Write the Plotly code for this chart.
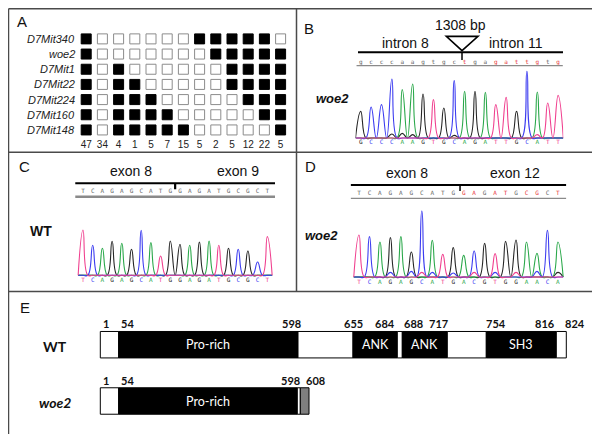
import plotly.graph_objects as go

W, H = 600, 434
ARIAL = "Arial, Liberation Sans, sans-serif"
CALI = "Lato, Open Sans, sans-serif"

# ---------------- Panel A data ----------------
markers_A = ["D7Mit340", "woe2", "D7Mit1", "D7Mit22", "D7Mit224", "D7Mit160", "D7Mit148"]
counts_A = [47, 34, 4, 1, 5, 7, 15, 5, 2, 5, 12, 22, 5]
geno_A = [
    [1, 0, 0, 0, 0, 0, 0, 1, 1, 1, 1, 1, 0],
    [1, 0, 0, 0, 0, 0, 0, 0, 1, 1, 1, 1, 1],
    [1, 0, 1, 0, 0, 0, 0, 0, 0, 1, 1, 1, 1],
    [1, 0, 1, 1, 0, 0, 0, 0, 0, 1, 1, 1, 1],
    [1, 0, 1, 1, 1, 0, 0, 0, 0, 0, 1, 1, 1],
    [1, 0, 1, 1, 1, 1, 0, 0, 0, 0, 0, 1, 1],
    [1, 0, 1, 1, 1, 1, 1, 0, 0, 0, 0, 0, 1],
]

# ---------------- Chromatogram data ----------------
B_calls = "GCCCAAGTGCAGATTGCATT"
B_heights = [80, 93, 100, 177, 145, 162, 132, 115, 90, 172, 140, 140, 137, 100, 122, 80, 200, 138, 105, 128]
B_minor = {"G": {3: 12, 4: 14, 5: 10, 9: 8}, "A": {4: 8}, "T": {17: 10}, "C": {}}
B_top_seq = "gcccaagtgctgagattgtg"
B_top_red = [10, 13, 14, 15, 16, 17, 19]

C_calls = "TCAGAGCATGGAGATGCGCT"
C_heights = [136, 90, 81, 102, 96, 78, 135, 98, 58, 103, 93, 90, 100, 103, 90, 81, 78, 73, 40, 116]
C_minor = {"G": {}, "A": {}, "T": {}, "C": {}}
C_top_seq = "TCAGAGCATGGAGATGCGCT"
C_top_red = []

D_calls = "TCAGAGCATGACGTGGAACA"
D_heights = [126, 121, 105, 118, 121, 75, 198, 110, 68, 88, 65, 78, 101, 70, 107, 111, 105, 71, 140, 105]
D_minor = {"G": {19: 14}, "A": {}, "T": {6: 14, 11: 14, 15: 14},
           "C": {3: 14, 5: 17, 7: 14, 9: 12, 13: 14, 17: 17}}
D_top_seq = "TCAGAGCATGGAGATGCGCT"
D_top_red = [10, 11, 13, 14, 16, 17, 19]

# ---------------- Panel E data ----------------
wt_residues = [1, 54, 598, 655, 684, 688, 717, 754, 816, 824]
wt_draw = [92.3, 110.7, 290.0, 345.0, 389.3, 394.3, 439.3, 478.3, 548.3, 558.3]
wt_fill = ["white", "black", "white", "black", "white", "black", "white", "black", "white"]
wt_domains = ["", "Pro-rich", "", "ANK", "", "ANK", "", "SH3", ""]
wt_anchor = ["left", "left", "right", "center", "right", "left", "right", "left", "right", "left"]
wt_shift = [1, 0, 5, 0, 0, 0, 3, -2, 1, -3]

mut_residues = [1, 54, 598, 608]
mut_draw = [92.3, 110.7, 289.3, 292.3, 301.0]
mut_fill = ["white", "black", "white", "#7f7f7f"]
mut_domains = ["", "Pro-rich", "", ""]
mut_label_idx = [0, 1, 2, 4]
mut_anchor = ["left", "left", "right", "left"]
mut_shift = [1, 0, 5, -5]

BASE_COL = {"G": "#262626", "A": "#2aa84a", "T": "#f0408f", "C": "#3c3cf0"}


def dx(a, b):
    return [a / W, b / W]


def dy(top, bot):
    return [1 - bot / H, 1 - top / H]


fig = go.Figure()
layout_axes = {}

# axis 1: panel A
layout_axes["xaxis"] = dict(domain=dx(70.1, 280.7), range=[-0.5, 12.5])
layout_axes["yaxis"] = dict(domain=dy(23.3, 144.7), range=[7.5, -0.5])


def chrom_axes(idx, p0, step, xr, base_px, yr):
    layout_axes["xaxis%d" % idx] = dict(domain=dx(p0 + xr[0] * step, p0 + xr[1] * step), range=xr,
                                        anchor="y%d" % idx)
    layout_axes["yaxis%d" % idx] = dict(domain=dy(base_px - yr[1] / 3.0, base_px - yr[0] / 3.0), range=yr,
                                        anchor="x%d" % idx)


chrom_axes(2, 352.7, 10.39, [-0.5, 19.5], 130.0, [-25, 350])
chrom_axes(3, 75.0, 9.7, [-0.8, 19.8], 267.3, [-25, 330])
chrom_axes(4, 351.0, 10.47, [-0.8, 19.8], 269.0, [-25, 330])
layout_axes["xaxis5"] = dict(domain=[0, 1], range=[0, 600], anchor="y5")
layout_axes["yaxis5"] = dict(domain=dy(300, 420), range=[-0.4796, 1.652], anchor="x5")

for k, v in layout_axes.items():
    v.update(visible=False, fixedrange=True)

# ---- Panel A marks ----
for r, row in enumerate(geno_A):
    fig.add_trace(go.Scatter(
        x=list(range(len(row))), y=[r] * len(row), mode="markers", xaxis="x", yaxis="y",
        marker=dict(symbol="square", size=10,
                    color=["black" if g else "white" for g in row],
                    line=dict(width=1, color=["black" if g else "#8c8c8c" for g in row])),
        hoverinfo="skip", showlegend=False))
fig.add_trace(go.Scatter(
    x=list(range(len(counts_A))), y=[7.05] * len(counts_A), mode="text", xaxis="x", yaxis="y",
    text=[str(c) for c in counts_A], textfont=dict(size=10, family=ARIAL, color="#222"),
    hoverinfo="skip", showlegend=False, cliponaxis=False))

annotations = []
for r, name in enumerate(markers_A):
    annotations.append(dict(text="<i>%s</i>" % name, xref="paper", yref="y", x=68.5 / W, y=r,
                            xanchor="right", yanchor="middle", showarrow=False,
                            font=dict(size=11, family=ARIAL, color="#222")))


# ---- chromatograms ----
def chromatogram(idx, calls, heights, minor):
    xa, ya = "x%d" % idx, "y%d" % idx
    for base in ["G", "A", "C", "T"]:
        vals = [heights[i] if calls[i] == base else minor[base].get(i, 0) for i in range(len(calls))]
        xs, ys = [-0.5], [0]
        for i, v in enumerate(vals):
            xs += [i, i + 0.5]
            ys += [v, 0]
        fig.add_trace(go.Scatter(x=xs, y=ys, mode="lines", xaxis=xa, yaxis=ya,
                                 line=dict(color=BASE_COL[base], width=1.1, shape="spline", smoothing=1.3),
                                 hoverinfo="skip", showlegend=False))
    fig.add_trace(go.Scatter(x=list(range(len(calls))), y=[-15] * len(calls), mode="text", xaxis=xa, yaxis=ya,
                             text=list(calls), textfont=dict(size=6, family="DejaVu Sans Mono",
                                                             color=[BASE_COL[c] for c in calls]),
                             hoverinfo="skip", showlegend=False, cliponaxis=False))


chromatogram(2, B_calls, B_heights, B_minor)
chromatogram(3, C_calls, C_heights, C_minor)
chromatogram(4, D_calls, D_heights, D_minor)


def top_letters(idx, seq, reds, yv):
    fig.add_trace(go.Scatter(x=list(range(len(seq))), y=[yv] * len(seq), mode="text",
                             xaxis="x%d" % idx, yaxis="y%d" % idx, text=list(seq),
                             textfont=dict(size=6, family="DejaVu Sans Mono",
                                           color=["#e8383a" if i in reds else "#666666" for i in range(len(seq))]),
                             hoverinfo="skip", showlegend=False, cliponaxis=False))


top_letters(2, B_top_seq, B_top_red, 227)
top_letters(3, C_top_seq, C_top_red, 252)
top_letters(4, D_top_seq, D_top_red, 250)

shapes = []
LC = "#4a4a4a"


def pline(x0, y0, x1, y1, w=1.5, c=LC):
    shapes.append(dict(type="line", xref="paper", yref="paper", x0=x0 / W, x1=x1 / W,
                       y0=1 - y0 / H, y1=1 - y1 / H, line=dict(color=c, width=w)))


# panel frames
pline(0.5, 0.8, 597.5, 0.8)
pline(0.5, 0.8, 0.5, 431.5)
pline(597.5, 0.8, 597.5, 431.5)
pline(0.5, 431.5, 597.5, 431.5)
pline(288.5, 0.8, 288.5, 283.5)
pline(0.5, 144.2, 597.5, 144.2)
pline(0.5, 283.5, 597.5, 283.5)


def aline(idx, x0, y0, x1, y1, w=1.5, c="black"):
    shapes.append(dict(type="line", xref="x%d" % idx, yref="y%d" % idx, x0=x0, x1=x1, y0=y0, y1=y1,
                       line=dict(color=c, width=w)))


def atext(idx, x, y, t, size=14, family=ARIAL, color="#111"):
    annotations.append(dict(text=t, xref="x%d" % idx, yref="y%d" % idx, x=x, y=y, showarrow=False,
                            xanchor="center", yanchor="middle", font=dict(size=size, family=family, color=color)))


# Panel B decorations
aline(2, -0.26, 257, 19.47, 257, w=2)
aline(2, -0.4, 217, 19.45, 217, w=1.2, c="#8a8a8a")
aline(2, 9.75, 257, 9.75, 234, w=1.5)
shapes.append(dict(type="path", xref="x2", yref="y2", path="M 8.24 305 L 11.29 305 L 9.75 262 Z",
                   line=dict(color="black", width=1.6), fillcolor="rgba(0,0,0,0)"))
atext(2, 9.62, 340, "1308 bp")
atext(2, 4.3, 285, "intron 8")
atext(2, 14.9, 285, "intron 11")

# Panel C decorations
aline(3, -0.82, 276, 19.8, 276, w=2)
aline(3, -0.82, 236, 19.8, 236, w=2.5, c="#8a8a8a")
aline(3, 9.5, 276, 9.5, 258, w=2.2)
atext(3, 4.94, 313, "exon 8")
atext(3, 15.98, 313, "exon 9")

# Panel D decorations
aline(4, -0.8, 276, 19.8, 276, w=2)
aline(4, -0.8, 236, 19.8, 236, w=1.2, c="#8a8a8a")
aline(4, 9.65, 276, 9.65, 258, w=1.5)
atext(4, 4.61, 313, "exon 8")
atext(4, 14.9, 313, "exon 12")


def ptext(x, y, t, size=14, xanchor="center", family=ARIAL, color="#111"):
    annotations.append(dict(text=t, xref="paper", yref="paper", x=x / W, y=1 - y / H, showarrow=False,
                            xanchor=xanchor, yanchor="middle", font=dict(size=size, family=family, color=color)))


ptext(13.5, 14, "A", size=15)
ptext(301, 21, "B", size=15)
ptext(16, 158, "C", size=15)
ptext(302, 158, "D", size=15)
ptext(17, 299, "E", size=15)
ptext(343, 90, "<b><i>woe2</i></b>", size=13, xanchor="right")
ptext(32.5, 223, "<b>WT</b>", size=14)
ptext(331.5, 228, "<b><i>woe2</i></b>", size=13, xanchor="right")


# ---- Panel E bars ----
def protein_row(yv, draw, fills, domains, residues, label_idx, anchors, shifts, name, label_y):
    starts = draw[:-1]
    lens = [draw[i + 1] - draw[i] for i in range(len(draw) - 1)]
    fig.add_trace(go.Bar(orientation="h", y=[yv] * len(lens), x=lens, base=starts, width=0.47,
                         xaxis="x5", yaxis="y5", marker=dict(color=fills, line=dict(color="black", width=1)),
                         hoverinfo="skip", showlegend=False))
    for i, d in enumerate(domains):
        if d:
            annotations.append(dict(text=d, xref="x5", yref="y5", x=(draw[i] + draw[i + 1]) / 2, y=yv,
                                    showarrow=False, xanchor="center", yanchor="middle",
                                    font=dict(size=12.5, family=CALI, color="white")))
    for k, res in enumerate(residues):
        annotations.append(dict(text="<b>%d</b>" % res, xref="x5", yref="y5", x=draw[label_idx[k]],
                                y=label_y, showarrow=False, xanchor=anchors[k], xshift=shifts[k],
                                yanchor="middle", font=dict(size=11, family=CALI, color="#111")))
    annotations.append(dict(text=name, xref="paper", yref="y5", x=47 / W, y=yv - 0.03, showarrow=False,
                            xanchor="center", yanchor="middle", font=dict(size=14, family=CALI, color="#111")))


protein_row(1, wt_draw, wt_fill, wt_domains, wt_residues, list(range(len(wt_residues))),
            wt_anchor, wt_shift, "<b>WT</b>", 1.373)
protein_row(0, mut_draw, mut_fill, mut_domains, mut_residues, mut_label_idx,
            mut_anchor, mut_shift, "<b><i>woe2</i></b>", 0.36)

fig.update_layout(width=W, height=H, margin=dict(l=0, r=0, t=0, b=0),
                  paper_bgcolor="white", plot_bgcolor="white", barmode="overlay",
                  shapes=shapes, annotations=annotations, showlegend=False, **layout_axes)
fig.write_html("out.html")
